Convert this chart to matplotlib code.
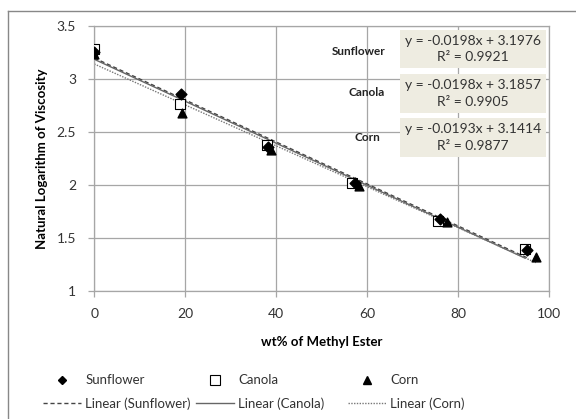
import matplotlib
matplotlib.use('Agg')
import matplotlib.pyplot as plt
from matplotlib.lines import Line2D
from matplotlib.patches import Rectangle
import numpy as np

plt.rcParams['font.family'] = ['Lato', 'DejaVu Sans']

# data
sun_x = [0, 19.1, 38.1, 57.3, 76.1, 95.2]
sun_y = [3.25, 2.86, 2.36, 2.02, 1.68, 1.39]
can_x = [0, 18.8, 37.9, 56.7, 75.6, 94.7]
can_y = [3.28, 2.76, 2.38, 2.02, 1.66, 1.40]
corn_x = [0, 19.3, 38.8, 58.2, 77.6, 97.1]
corn_y = [3.24, 2.68, 2.33, 1.99, 1.65, 1.32]

# trendline coefficients shown on the chart
names = ['Sunflower', 'Canola', 'Corn']
slopes = [-0.0198, -0.0198, -0.0193]
intercepts = [3.1976, 3.1857, 3.1414]
r2 = [0.9921, 0.9905, 0.9877]

fig = plt.figure(figsize=(5.76, 4.19), dpi=100)
ax = fig.add_axes([0.1637, 0.3055, 0.7894, 0.6325])

grid_c = '#a6a6a6'
ax.set_xlim(0, 100)
ax.set_ylim(1, 3.5)
ax.set_xticks([0, 20, 40, 60, 80, 100])
ax.set_yticks([1, 1.5, 2, 2.5, 3, 3.5])
ax.set_yticklabels(['1', '1.5', '2', '2.5', '3', '3.5'])
ax.grid(True, color=grid_c, lw=0.9)
ax.set_axisbelow(True)
for s in ax.spines.values():
    s.set_color(grid_c)
    s.set_linewidth(0.9)
ax.tick_params(length=4, width=0.9, color=grid_c, labelsize=10, labelcolor='#333333')
ax.tick_params(axis='x', pad=8)
ax.tick_params(axis='y', pad=9)

ax.set_xlabel('wt% of Methyl Ester', fontsize=9.5, fontweight='bold', labelpad=12)
ax.set_ylabel('Natural Logarithm of Viscosity', fontsize=9.5, fontweight='bold', labelpad=6)

styles = [(0, (3, 2)), '-', (0, (1, 1))]
colors = ['#444444', '#666666', '#777777']
xs_all = [sun_x, can_x, corn_x]
for m, b, st, c, xs in zip(slopes, intercepts, styles, colors, xs_all):
    xx = np.array([min(xs), max(xs)])
    ax.plot(xx, m * xx + b, ls=st, color=c, lw=1, zorder=2)

ax.scatter(sun_x, sun_y, marker='D', s=30, color='black', zorder=4)
ax.scatter(can_x, can_y, marker='s', s=60, facecolor='white', edgecolor='black', lw=0.8, zorder=3)
ax.scatter(corn_x, corn_y, marker='^', s=40, color='black', zorder=4)

# equation boxes
box_y = [0.8415, 0.672, 0.506]
lab_y = [0.905, 0.748, 0.58]
lab_x = [0.582, 0.599, 0.601]
for i in range(3):
    ax.add_patch(Rectangle((0.672, box_y[i]), 0.321, 0.145, transform=ax.transAxes,
                           facecolor='#eeece1', edgecolor='none', zorder=5))
    ax.text(0.8325, box_y[i] + 0.0725,
            'y = %.4fx + %.4f\nR² = %.4f' % (slopes[i], intercepts[i], r2[i]),
            transform=ax.transAxes, ha='center', va='center', fontsize=10,
            color='#333333', linespacing=1.45, zorder=6)
    ax.text(lab_x[i], lab_y[i], names[i], transform=ax.transAxes, ha='center', va='center',
            fontsize=8.5, fontweight='bold', color='#222222', zorder=6)

# legend: three equal-width columns like the original
markers = [dict(marker='D', color='black', markersize=4.5),
           dict(marker='s', markerfacecolor='white', markeredgecolor='black', markersize=7, markeredgewidth=0.8),
           dict(marker='^', color='black', markersize=5.5)]
col_x = [43 / 576, 196 / 576, 348 / 576]
for i in range(3):
    h = [Line2D([], [], ls='none', **markers[i]),
         Line2D([], [], ls=styles[i], color=colors[i], lw=1)]
    fig.legend(h, [names[i], 'Linear (%s)' % names[i]], loc='center left',
               bbox_to_anchor=(col_x[i], 1 - 392 / 419), frameon=False, fontsize=9.5,
               handlelength=2.9, handletextpad=0.3, labelspacing=0.85,
               borderpad=0, borderaxespad=0, labelcolor='#333333')

# outer chart border (only top and left visible)
fig.add_artist(Line2D([0.0139, 1.0], [0.974, 0.974], color='#888888', lw=1, transform=fig.transFigure))
fig.add_artist(Line2D([0.0139, 0.0139], [0.0, 0.974], color='#888888', lw=1, transform=fig.transFigure))

fig.savefig('out.png', dpi=100)
